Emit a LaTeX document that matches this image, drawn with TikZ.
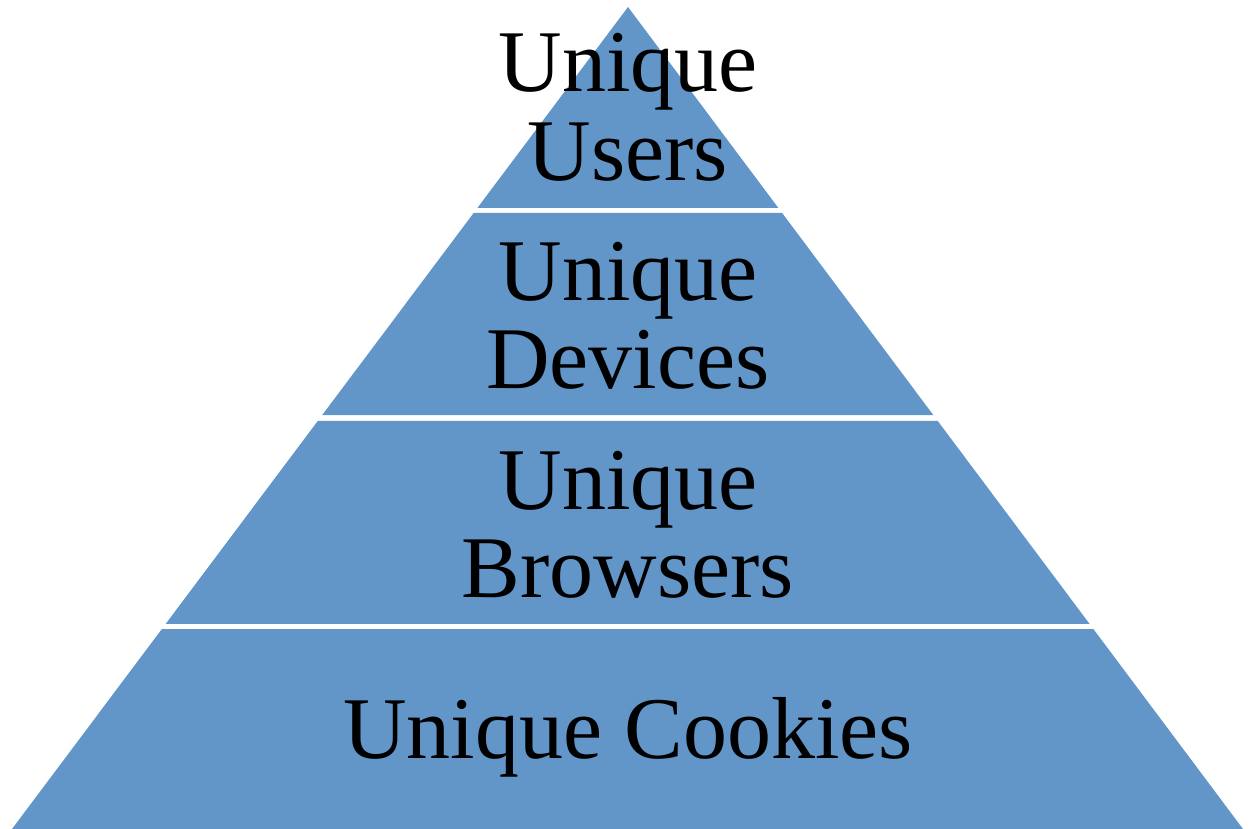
\documentclass[tikz,border=0pt]{standalone}
\usepackage{fontspec}
\setmainfont{Liberation Serif}
\usetikzlibrary{calc}
\definecolor{pyrblue}{RGB}{98,150,201}
\tikzset{
  layer/.style={fill=pyrblue, draw=none},
  lbl/.style={font=\fontsize{88}{88}\selectfont, text=black, align=center, anchor=base, inner sep=0pt}
}
\begin{document}
\begin{tikzpicture}[x=1pt,y=-1pt]
\useasboundingbox (0,0) rectangle (1249,829);
\coordinate (apex) at (628,7);
\coordinate (bl) at (12,829);
\coordinate (br) at (1243,829);
% layer 1
\fill[layer] (apex) -- ($(apex)!0.2445!(bl)$) -- ($(apex)!0.2445!(br)$) -- cycle;
% layer 2
\fill[layer] ($(apex)!0.2506!(bl)$) -- ($(apex)!0.4964!(bl)$) -- ($(apex)!0.4964!(br)$) -- ($(apex)!0.2506!(br)$) -- cycle;
% layer 3
\fill[layer] ($(apex)!0.5036!(bl)$) -- ($(apex)!0.7506!(bl)$) -- ($(apex)!0.7506!(br)$) -- ($(apex)!0.5036!(br)$) -- cycle;
% layer 4
\fill[layer] ($(apex)!0.7567!(bl)$) -- (bl) -- (br) -- ($(apex)!0.7567!(br)$) -- cycle;
\node[lbl] (users) at (628,180) {Unique\\Users};
\node[lbl] (devices) at (628,388) {Unique\\Devices};
\node[lbl] (browsers) at (628,597) {Unique\\Browsers};
\node[lbl] (cookies) at (628,758) {Unique Cookies};
\end{tikzpicture}
\end{document}
